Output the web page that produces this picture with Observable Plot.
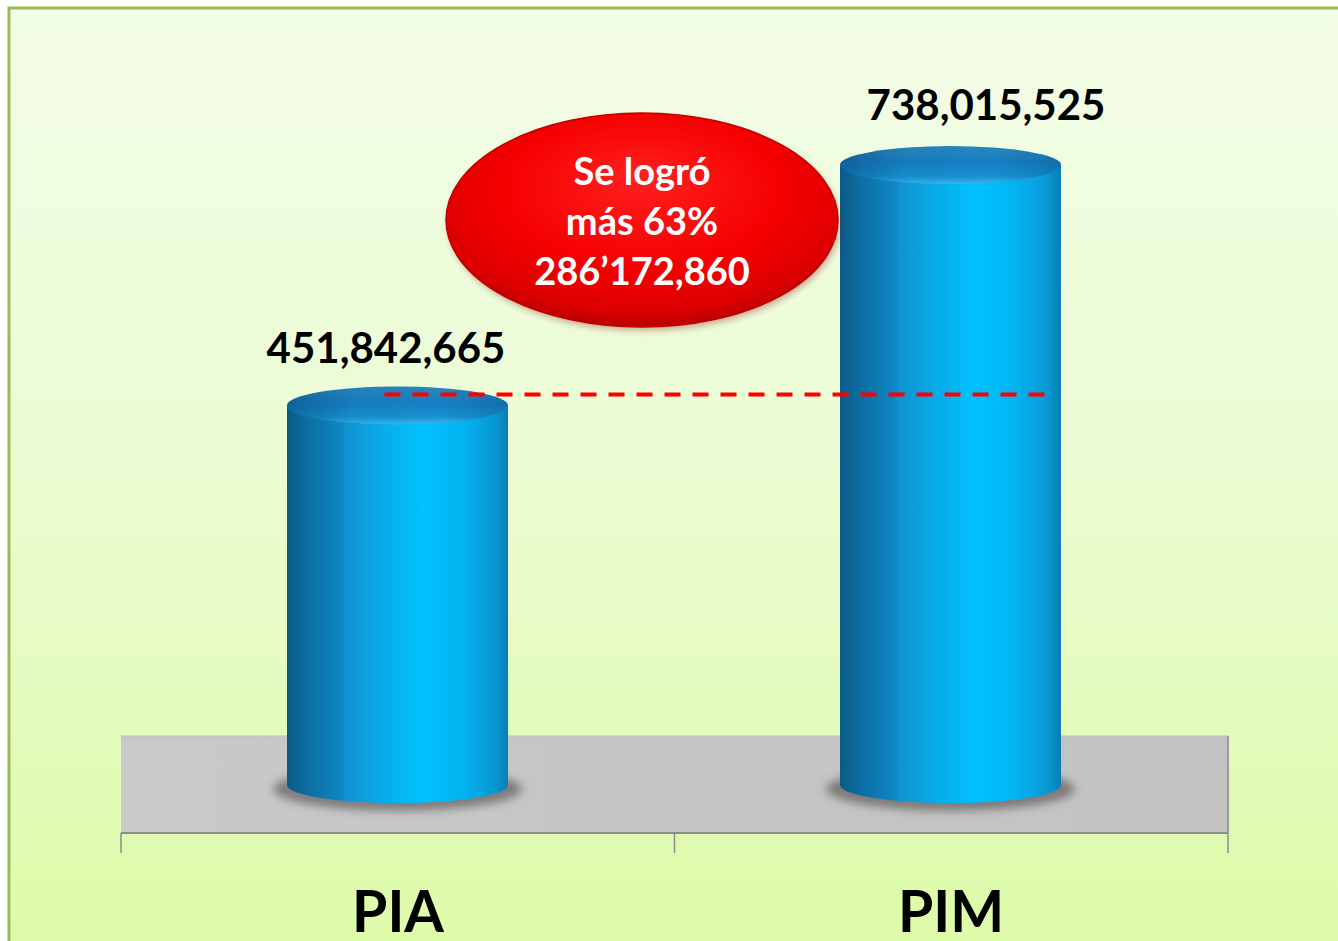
<!DOCTYPE html>
<html><head><meta charset="utf-8">
<script src="https://cdn.jsdelivr.net/npm/d3@7"></script>
<script src="https://cdn.jsdelivr.net/npm/@observablehq/plot@0.6"></script>
<style>html,body{margin:0;padding:0;background:#fff;overflow:hidden} svg{display:block}</style>
</head><body><div id="chart"></div>
<script>
// ---- data ----
const categories = ["PIA", "PIM"];
const values = [451842665, 738015525];
const valueLabels = ["451,842,665", "738,015,525"];
const calloutLines = ["Se logró", "más 63%", "286’172,860"];

const data = categories.map((c, i) => ({cat: c, value: values[i], label: valueLabels[i]}));

const W = 1338, H = 941;
const FONT = "Lato, 'Open Sans', sans-serif";
const NS = "http://www.w3.org/2000/svg";
function el(tag, attrs, parent) {
  const e = document.createElementNS(NS, tag);
  for (const k in attrs) e.setAttribute(k, attrs[k]);
  if (parent) parent.appendChild(e);
  return e;
}
function grad(defs, type, id, attrs, stops) {
  const g = el(type, Object.assign({id}, attrs), defs);
  for (const [o, c] of stops) el("stop", {offset: o, "stop-color": c}, g);
}
function bw(x) { return x.bandwidth ? x.bandwidth() : 221; }

// defs + background + frame
const background = (index, {x, y}) => {
  const g = el("g", {});
  const defs = el("defs", {}, g);
  grad(defs, "linearGradient", "bg", {x1: 0, y1: 0, x2: 0, y2: 1},
    [["0%", "#f3fde7"], ["45%", "#ebfcd4"], ["100%", "#dcfba6"]]);
  grad(defs, "linearGradient", "body", {x1: 0, y1: 0, x2: 1, y2: 0},
    [["0%", "#0a5b86"], ["8%", "#0c6c9f"], ["25%", "#0e88c4"], ["27%", "#1193d2"], ["45%", "#07aeea"], ["62%", "#00c2ff"], ["80%", "#04b2f0"], ["94%", "#0898d4"], ["100%", "#0a7db4"]]);
  grad(defs, "linearGradient", "top", {x1: 0, y1: 0, x2: 0, y2: 1},
    [["0%", "#2a86bf"], ["45%", "#1580c2"], ["80%", "#1792d4"], ["100%", "#3ab6ee"]]);
  grad(defs, "linearGradient", "topx", {x1: 0, y1: 0, x2: 1, y2: 0},
    [["0%", "rgba(0,40,80,0.35)"], ["30%", "rgba(0,40,80,0.05)"], ["70%", "rgba(0,40,80,0)"], ["100%", "rgba(0,40,80,0.2)"]]);
  grad(defs, "radialGradient", "red", {cx: "50%", cy: "40%", r: "60%", fx: "50%", fy: "30%"},
    [["0%", "#ff2020"], ["60%", "#f60000"], ["90%", "#dc0000"], ["100%", "#b80000"]]);
  grad(defs, "linearGradient", "floor", {x1: 0, y1: 0, x2: 1, y2: 0},
    [["0%", "#c9c9c9"], ["50%", "#c5c5c5"], ["100%", "#c3c3c3"]]);
  const f = el("filter", {id: "blur", x: "-30%", y: "-60%", width: "160%", height: "220%"}, defs);
  el("feGaussianBlur", {stdDeviation: 4}, f);
  const f2 = el("filter", {id: "soft", x: "-10%", y: "-10%", width: "120%", height: "130%"}, defs);
  el("feGaussianBlur", {stdDeviation: 3}, f2);
  el("rect", {x: 0, y: 0, width: W, height: H, fill: "#ffffff"}, g);
  el("rect", {x: 9, y: 8, width: W + 20, height: H + 20, fill: "url(#bg)", stroke: "#9bbb59", "stroke-width": 3}, g);
  return g;
};

// floor + axis line + ticks
const floor = (index, {x, y}) => {
  const g = el("g", {});
  const [r0, r1] = x.range ? x.range() : [121, 1228];
  const y0 = y(0);
  el("rect", {x: r0, y: y0 - 49, width: r1 - r0, height: 97, fill: "url(#floor)"}, g);
  el("line", {x1: r0, x2: r1, y1: y0 - 49, y2: y0 - 49, stroke: "#bdbdbd", "stroke-width": 1}, g);
  el("line", {x1: r0, x2: r1, y1: y0 + 48, y2: y0 + 48, stroke: "#8c8c8c", "stroke-width": 2}, g);
  el("line", {x1: r1, x2: r1, y1: y0 - 49, y2: y0 + 48, stroke: "#9a9a9a", "stroke-width": 2}, g);
  const step = (r1 - r0) / categories.length;
  for (let i = 0; i <= categories.length; i++) {
    const tx = r0 + i * step;
    el("line", {x1: tx, x2: tx, y1: y0 + 48, y2: y0 + 68, stroke: "#8c8c8c", "stroke-width": 1.5}, g);
  }
  return g;
};

// shadows and bottom ellipses
const cylBottoms = (index, {x, y}) => {
  const g = el("g", {});
  const w = bw(x), y0 = y(0);
  for (const d of data) {
    const cx = x(d.cat) + w / 2;
    el("ellipse", {cx, cy: y0 + 4, rx: w / 2 + 14, ry: 22, fill: "#4a4040", opacity: 0.55, filter: "url(#blur)"}, g);
    el("ellipse", {cx, cy: y0, rx: w / 2, ry: 18, fill: "url(#body)"}, g);
  }
  return g;
};

const cylTops = (index, {x, y}) => {
  const g = el("g", {});
  const w = bw(x);
  for (const d of data) {
    const cx = x(d.cat) + w / 2, cy = y(d.value);
    el("ellipse", {cx, cy, rx: w / 2, ry: 19, fill: "url(#top)"}, g);
    el("ellipse", {cx, cy, rx: w / 2, ry: 19, fill: "url(#topx)"}, g);
  }
  return g;
};

const dashed = (index, {x, y}) => {
  const g = el("g", {});
  const w = bw(x);
  el("line", {x1: x(categories[0]) + w / 2 - 13, x2: x(categories[1]) + w - 16,
    y1: y(values[0]) - 11, y2: y(values[0]) - 11,
    stroke: "#ff0000", "stroke-width": 4, "stroke-dasharray": "16,12"}, g);
  return g;
};

const callout = (index, {x, y}) => {
  const g = el("g", {});
  const w = bw(x);
  const cx = (x(categories[0]) + w + x(categories[1])) / 2 - 32;
  const cy = y(values[1]) + 55;
  el("ellipse", {cx: cx + 2, cy: cy + 4, rx: 196, ry: 107, fill: "#7a0000", opacity: 0.3, filter: "url(#soft)"}, g);
  el("ellipse", {cx, cy, rx: 196, ry: 107, fill: "url(#red)", stroke: "#c00000", "stroke-width": 1.5}, g);
  calloutLines.forEach((t, i) => {
    const tx = el("text", {x: cx, y: cy - 35 + i * 50, "text-anchor": "middle", fill: "#ffffff",
      "font-family": FONT, "font-weight": 700, "font-size": 38}, g);
    tx.textContent = t;
  });
  return g;
};

const chart = Plot.plot({
  width: W, height: H,
  marginLeft: 121, marginRight: 110, marginTop: 113, marginBottom: 156,
  x: {domain: categories, paddingInner: 0.6, paddingOuter: 0.3, axis: null},
  y: {domain: [0, 800e6], axis: null},
  style: {fontFamily: FONT, background: "transparent", overflow: "visible"},
  marks: [
    background,
    floor,
    cylBottoms,
    Plot.barY(data, {x: "cat", y: "value", fill: "url(#body)"}),
    cylTops,
    dashed,
    Plot.text(data.filter(d => d.cat === "PIA"), {x: "cat", y: "value", text: "label", dx: -12, dy: -43,
      lineAnchor: "bottom", fontSize: 42, fontWeight: 700, fill: "#000"}),
    Plot.text(data.filter(d => d.cat === "PIM"), {x: "cat", y: "value", text: "label", dx: 35, dy: -46,
      lineAnchor: "bottom", fontSize: 42, fontWeight: 700, fill: "#000"}),
    Plot.text(data, {x: "cat", y: 0, text: "cat", dy: 146, lineAnchor: "bottom",
      fontSize: 57, fontWeight: 700, fill: "#000"}),
    callout
  ]
});
document.getElementById("chart").appendChild(chart);
</script>
</body></html>
